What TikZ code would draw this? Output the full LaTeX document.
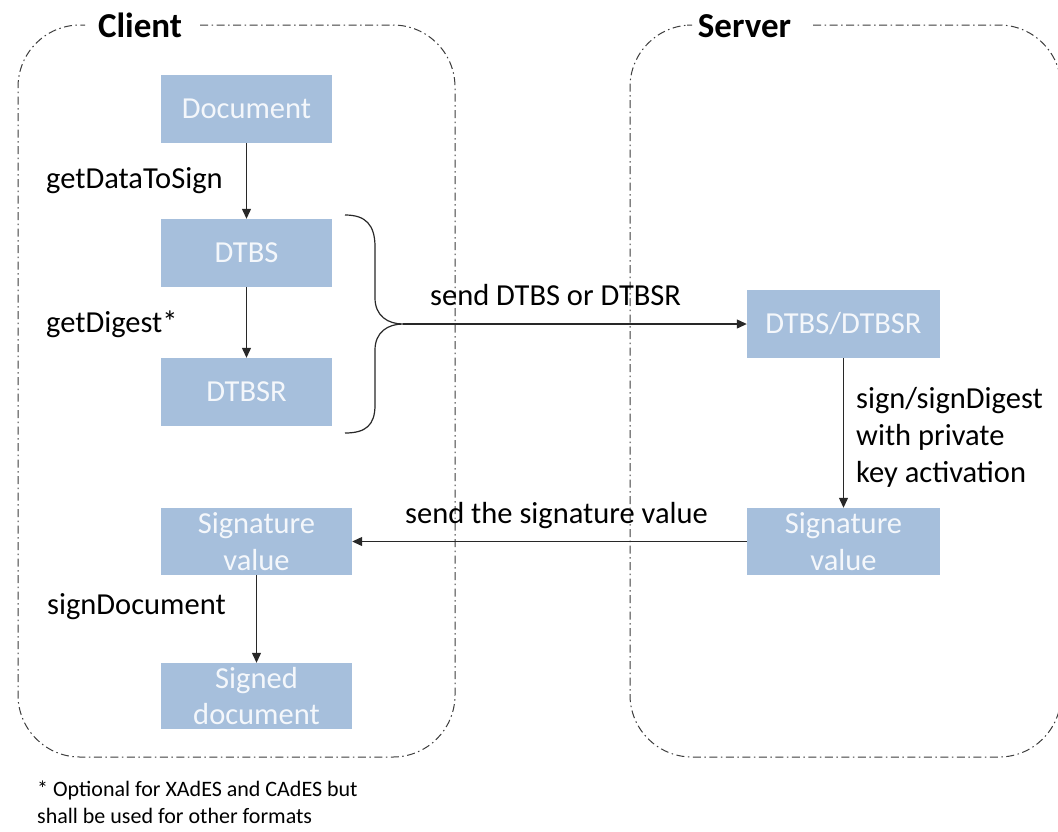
\documentclass[tikz,border=0pt]{standalone}
\usepackage{fontspec}
\setmainfont{Carlito}
\usetikzlibrary{arrows.meta}
\definecolor{boxblue}{RGB}{166,191,220}
\definecolor{boxtext}{RGB}{244,247,251}
\definecolor{linegray}{RGB}{40,40,40}
\definecolor{bordergray}{RGB}{60,60,60}
\tikzset{
  stepbox/.style={draw=none, fill=boxblue, text=boxtext, align=center, inner sep=0pt,
    font=\fontsize{30.5}{36.6}\selectfont},
  lbl/.style={anchor=base west, inner sep=0pt, align=left, text=black,
    font=\fontsize{30.5}{36.6}\selectfont},
  ttl/.style={anchor=base, inner sep=0pt, text=black, font=\fontsize{35}{42}\selectfont\bfseries},
  container/.style={draw=bordergray, line width=1pt, rounded corners=62pt,
    dash pattern=on 8pt off 3.5pt on 1.5pt off 3.5pt},
  conn/.style={draw=linegray, line width=1.2pt, -{Triangle[length=10pt,width=9pt]}},
  plain/.style={draw=linegray, line width=1.2pt}
}
\begin{document}
\begin{tikzpicture}[x=1pt,y=-1pt]
\useasboundingbox (0,0) rectangle (1058,831);
\clip (0,0) rectangle (1058,831);
% containers
\draw[container] (200,25) -- (455,25) -- (455,757) -- (18,757) -- (18,25) -- (85,25);
\draw[container] (813,25) -- (1061,25) -- (1061,757) -- (630,757) -- (630,25) -- (687,25);
\node[ttl] (client) at (140,37) {Client};
\node[ttl] (server) at (744.5,37) {Server};
% client boxes
\node[stepbox, minimum width=171pt, minimum height=68pt] (doc) at (246.5,109) {Document};
\node[stepbox, minimum width=171pt, minimum height=68pt] (dtbs) at (246.5,253) {DTBS};
\node[stepbox, minimum width=171pt, minimum height=68pt] (dtbsr) at (246.5,392) {DTBSR};
\node[stepbox, minimum width=191pt, minimum height=67pt] (csig) at (256.5,541.5) {Signature\\value};
\node[stepbox, minimum width=191pt, minimum height=66pt] (signed) at (256.5,696) {Signed\\document};
% server boxes
\node[stepbox, minimum width=193pt, minimum height=68pt] (sdtbs) at (843.5,324) {DTBS/DTBSR};
\node[stepbox, minimum width=193pt, minimum height=67pt] (ssig) at (843.5,541.5) {Signature\\value};
% brace
\coordinate (bracetip) at (403,324);
\draw[plain] (345,215) .. controls (366,215) and (375,225) .. (375,247) -- (375,298)
  .. controls (375,316) and (388,324) .. (bracetip)
  .. controls (388,324) and (375,332) .. (375,350) -- (375,405)
  .. controls (375,425) and (366,433) .. (345,433);
% connectors
\draw[conn] (doc) -- (dtbs);
\draw[conn] (dtbs) -- (dtbsr);
\draw[conn] (csig) -- (signed);
\draw[conn] (bracetip) -- (sdtbs);
\draw[conn] (sdtbs) -- (ssig);
\draw[conn] (ssig) -- (csig);
% labels
\node[lbl] (l1) at (46,188) {getDataToSign};
\node[lbl] (l2) at (46,332) {getDigest*};
\node[lbl] (l3) at (47,614) {signDocument};
\node[lbl] (l4) at (430,305) {send DTBS or DTBSR};
\node[lbl] (l5) at (405,523) {send the signature value};
\node[lbl] (l6) at (856,482) {sign/signDigest\\with private\\key activation};
\node[anchor=base west, inner sep=0pt, align=left, font=\fontsize{22}{27}\selectfont] (foot) at (37,823)
  {* Optional for XAdES and CAdES but\\shall be used for other formats};
\end{tikzpicture}
\end{document}
